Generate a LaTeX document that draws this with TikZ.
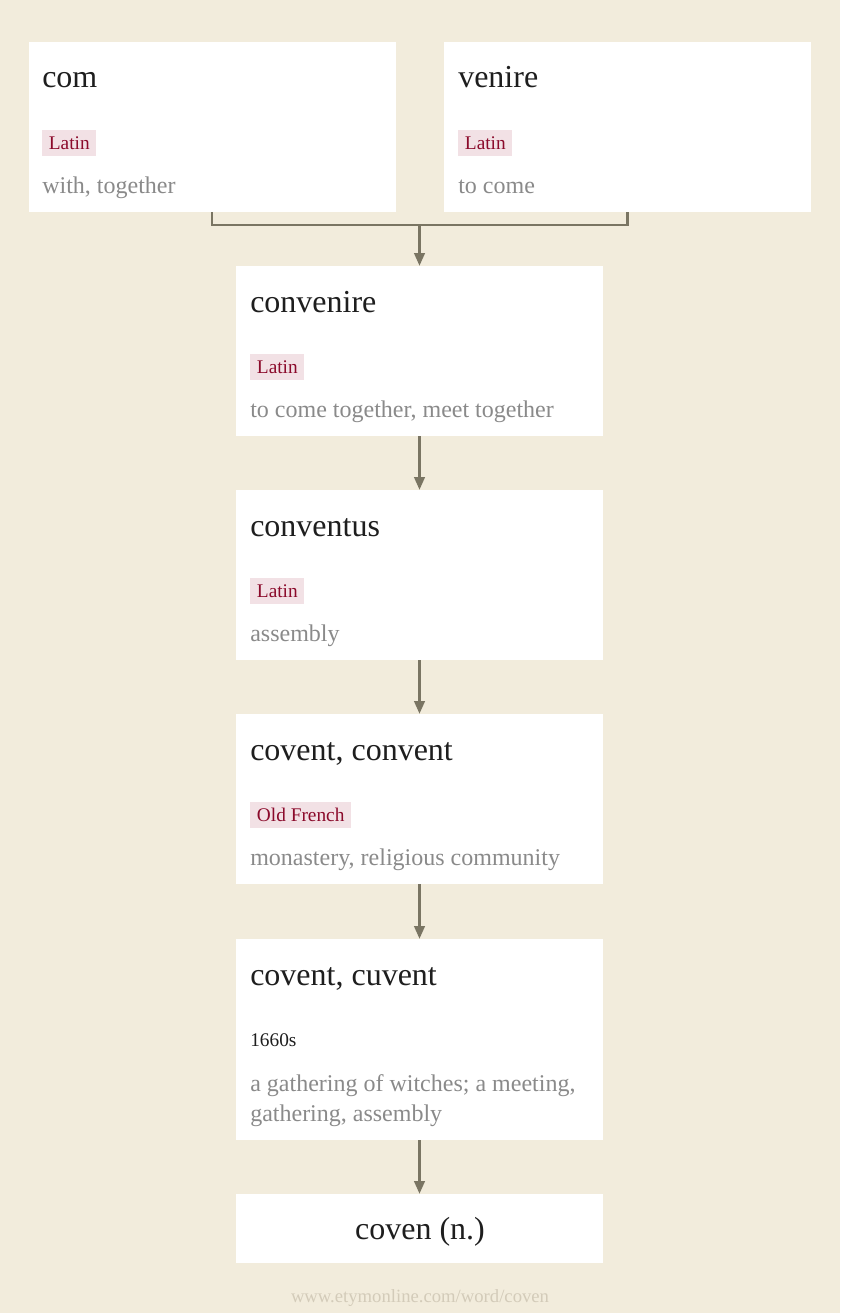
\documentclass[tikz,border=0pt]{standalone}
\usepackage{fontspec}
\setmainfont{Liberation Serif}
\usetikzlibrary{arrows.meta, positioning}
\definecolor{paper}{HTML}{F2ECDC}
\definecolor{ink}{HTML}{1E1E1E}
\definecolor{tagpink}{HTML}{F2E1E5}
\definecolor{tagred}{HTML}{8B0A2B}
\definecolor{glossgray}{HTML}{8A8A8A}
\definecolor{linkcol}{HTML}{7A7563}
\definecolor{footgray}{HTML}{D3CBB9}
\tikzset{
  card/.style={fill=white, minimum width=275.25pt, minimum height=127.5pt, inner sep=0pt},
  headword/.style={anchor=base west, inner sep=0pt, text=ink, font=\fontsize{24}{28}\selectfont},
  lang/.style={anchor=west, fill=tagpink, text=tagred, inner xsep=5pt, inner ysep=0pt, minimum height=19.5pt, font=\fontsize{14.5}{17}\selectfont},
  gloss/.style={anchor=base west, inner sep=0pt, text=glossgray, align=left, font=\fontsize{18}{22.5}\selectfont},
  link/.style={draw=linkcol, line width=1.6pt},
  descend/.style={link, -{Triangle[length=9.5pt, width=8pt]}}
}
\begin{document}
\begin{tikzpicture}[x=0.75pt, y=-0.75pt]
  \fill[paper] (0,0) rectangle (840,1313);
  \useasboundingbox (0,0) rectangle (840,1313);

  \node[card] (com) at (212,127) {};
  \node[headword] (com-w) at (42,88) {com};
  \node[lang] (com-l) at (42,143) {Latin};
  \node[gloss] (com-g) at (42,193) {with, together};

  \node[card] (venire) at (627.5,127) {};
  \node[headword] (venire-w) at (458,88) {venire};
  \node[lang] (venire-l) at (458,143) {Latin};
  \node[gloss] (venire-g) at (458,193) {to come};

  \node[card] (convenire) at (419.5,351) {};
  \node[headword] (convenire-w) at (250,312) {convenire};
  \node[lang] (convenire-l) at (250,367) {Latin};
  \node[gloss] (convenire-g) at (250,417) {to come together, meet together};

  \node[card] (conventus) at (419.5,575) {};
  \node[headword] (conventus-w) at (250,536) {conventus};
  \node[lang] (conventus-l) at (250,591) {Latin};
  \node[gloss] (conventus-g) at (250,641) {assembly};

  \node[card] (convent) at (419.5,799) {};
  \node[headword] (convent-w) at (250,760) {covent, convent};
  \node[lang] (convent-l) at (250,815) {Old French};
  \node[gloss] (convent-g) at (250,865) {monastery, religious community};

  \node[card, minimum height=150.75pt] (cuvent) at (419.5,1039.5) {};
  \node[headword] (cuvent-w) at (250,985) {covent, cuvent};
  \node[anchor=base west, inner sep=0pt, text=ink, font=\fontsize{14.5}{17}\selectfont] (cuvent-d) at (250,1046) {1660s};
  \node[gloss] (cuvent-g) at (250,1121) {a gathering of witches; a meeting,\\gathering, assembly};

  \node[card, minimum height=51.75pt] (coven) at (419.5,1228.5) {};
  \node[headword, anchor=base] (coven-w) at (420,1239) {coven (n.)};

  \node[anchor=base, inner sep=0pt, text=footgray, font=\fontsize{14}{17}\selectfont] (src) at (420,1302) {www.etymonline.com/word/coven};

  \coordinate (merge) at (419.5,225);
  \draw[link] (com.south) |- (merge) -| (venire.south);
  \draw[descend] (merge) -- (convenire.north);
  \draw[descend] (convenire) -- (conventus);
  \draw[descend] (conventus) -- (convent);
  \draw[descend] (convent) -- (cuvent);
  \draw[descend] (cuvent) -- (coven);
\end{tikzpicture}
\end{document}
